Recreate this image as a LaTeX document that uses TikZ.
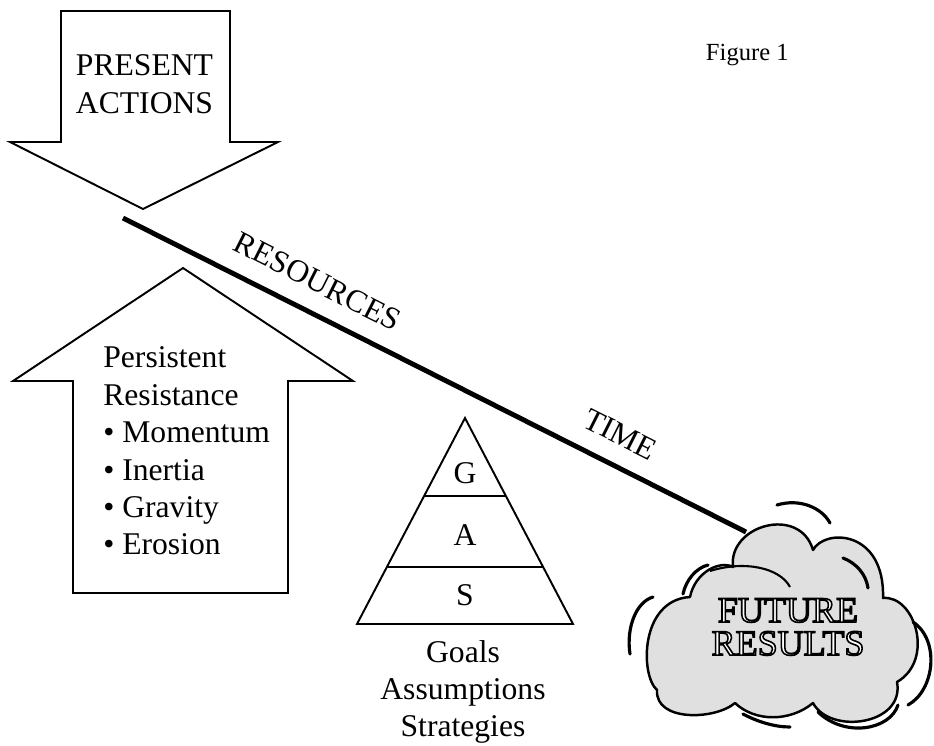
\documentclass[tikz,border=0pt]{standalone}
\usepackage{fontspec}
\setmainfont{Liberation Serif}
\usetikzlibrary{calc}
\definecolor{cloudgray}{gray}{0.88}
\newcommand{\engrave}[1]{{\color{white}\special{pdf:literal direct 0 G 0.9 w 2 Tr}#1\special{pdf:literal direct 0 Tr}}}

\begin{document}
\begin{tikzpicture}[x=0.02cm, y=-0.02cm,
    outline/.style={draw, line width=1.1pt, line join=miter},
    big/.style={font=\fontsize{18}{21.3}\selectfont, inner sep=0pt},
    swoosh/.style={line width=1.8pt, line cap=round}]

        \useasboundingbox (0,0) rectangle (934,745);

        \draw[outline] (61,11) -- (230,11) -- (230,142) -- (278,142) -- (143,209)
          -- (10,142) -- (61,142) -- cycle;
        \draw[outline] (183,268) -- (353,381) -- (288,381) -- (288,593) -- (73,593)
          -- (73,381) -- (13,381) -- cycle;

        \coordinate (r0) at (123,218);
        \coordinate (r1) at (746,532);
        \draw[line width=2.8pt] (r0) -- (r1)
          node[pos=0.29, sloped, above, big, inner sep=0.36cm] (resources) {RESOURCES}
          node[pos=0.776, sloped, above, big, inner sep=0.36cm] (time) {TIME};

        \coordinate (top) at (465,418);
        \coordinate (bl) at (357,624);
        \coordinate (br) at (573,624);
        \draw[outline] (top) -- (br) -- (bl) -- cycle;
        \draw[outline] ($(top)!0.379!(bl)$) -- ($(top)!0.379!(br)$);
        \draw[outline] ($(top)!0.723!(bl)$) -- ($(top)!0.723!(br)$);

        \path[fill=cloudgray, draw, line width=1.4pt, line join=round]
          (733,567) .. controls (728,525) and (800,505) .. (813,550)
          .. controls (825,528) and (885,530) .. (883,598)
          .. controls (915,595) and (935,660) .. (897,682)
          .. controls (905,725) and (830,735) .. (813,703)
          .. controls (790,722) and (755,722) .. (735,703)
          .. controls (715,720) and (655,722) .. (657,690)
          .. controls (640,675) and (640,600) .. (690,597)
          .. controls (695,572) and (720,560) .. (733,567) -- cycle;
        \draw[line width=1.2pt] (710,571) .. controls (745,560) and (780,568) .. (790,587);

        \begin{scope}[every path/.style={swoosh}]
          \draw (777,505) .. controls (800,498) and (822,508) .. (830,523);
          \draw (683,594) .. controls (686,580) and (696,568) .. (708,565);
          \draw (630,654) .. controls (626,628) and (636,602) .. (653,597);
          \draw (843,558) .. controls (856,563) and (866,574) .. (868,588);
          \draw (913,622) .. controls (940,640) and (935,690) .. (908,705);
          \draw (743,714) .. controls (758,722) and (775,727) .. (790,727);
          \draw (818,712) .. controls (845,738) and (890,730) .. (898,705);
        \end{scope}

        \begin{scope}[every node/.style={big}]
          \node[align=center] (act) at (144.5,84) {PRESENT\\ACTIONS};
          \node[align=left, anchor=west] (res) at (103,451)
            {Persistent\\Resistance\\\textbullet{} Momentum\\\textbullet{} Inertia\\
             \textbullet{} Gravity\\\textbullet{} Erosion};
          \node[align=center] (gas) at (463,692) {Goals\\Assumptions\\Strategies};
        \end{scope}

        \begin{scope}[every node/.style={big, anchor=base}]
          \node (g) at (465,483) {G};
          \node (a) at (465,545) {A};
          \node (s) at (465,605) {S};
        \end{scope}

        \node[font=\fontsize{14}{16}\selectfont, anchor=base east, inner sep=0pt] (fig)
          at (789,60) {Figure 1};
        \node[font=\fontsize{20.5}{18.8}\selectfont, align=center, inner sep=0pt] (fut)
          at (788,627) {\engrave{FUTURE}\\\engrave{RESULTS}};

      \end{tikzpicture}
\end{document}
